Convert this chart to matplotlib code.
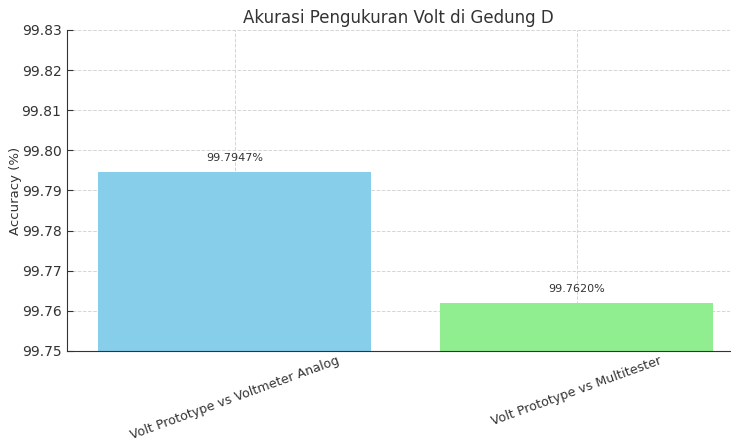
import matplotlib.pyplot as plt

# data
kategori = ['Volt Prototype vs Voltmeter Analog', 'Volt Prototype vs Multitester']
akurasi = [99.7947, 99.7620]
warna = ['skyblue', 'lightgreen']

plt.rcParams['text.color'] = '#333333'
plt.rcParams['axes.labelcolor'] = '#333333'
plt.rcParams['xtick.color'] = '#333333'
plt.rcParams['ytick.color'] = '#333333'

fig = plt.figure(figsize=(7.31, 4.43), dpi=100)
ax = fig.add_axes([0.0917, 0.2077, 0.9075, 0.7246])

x = range(len(kategori))
bars = ax.bar(x, akurasi, color=warna, width=0.8, zorder=2)

for b, v in zip(bars, akurasi):
    ax.text(b.get_x() + b.get_width() / 2, v + 0.0022, f'{v:.4f}%',
            ha='center', va='bottom', fontsize=8)

ax.set_ylim(99.75, 99.83)
ax.set_xlim(-0.49, 1.45)
ax.set_xticks(list(x))
ax.set_xticklabels(kategori, rotation=20, ha='center', fontsize=9.1)
ax.tick_params(axis='x', pad=2)
ax.tick_params(axis='y', labelsize=10, pad=4)
ax.tick_params(direction='in', length=4)
ax.yaxis.set_major_formatter(plt.FormatStrFormatter('%.2f'))
ax.set_ylabel('Accuracy (%)', fontsize=9.5, labelpad=0)
ax.set_title('Akurasi Pengukuran Volt di Gedung D', fontsize=12, pad=5)

ax.grid(True, linestyle='--', color='#d5d5d5', linewidth=0.7, zorder=0)
ax.spines['top'].set_visible(False)
ax.spines['right'].set_visible(False)
ax.spines['left'].set_color('#333333')
ax.spines['bottom'].set_color('#333333')

plt.savefig('out.png', dpi=100)
